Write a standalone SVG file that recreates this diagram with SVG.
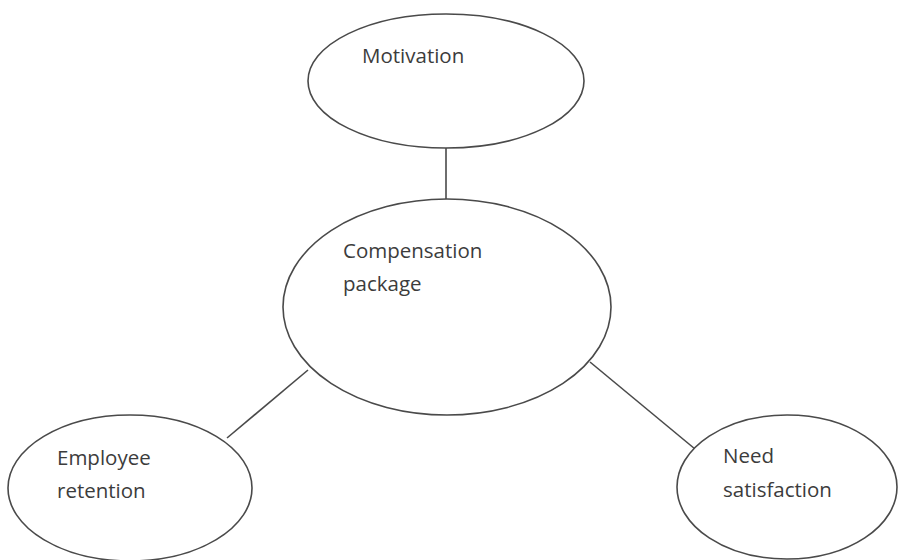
<svg xmlns="http://www.w3.org/2000/svg" width="898" height="560" viewBox="0 0 898 560">
<style>
.n{fill:#fff;stroke:#4a4a4a;stroke-width:1.6}
.c{stroke:#4a4a4a;stroke-width:1.6;fill:none}
text{font-family:"Open Sans","DejaVu Sans",sans-serif;font-size:20.5px;fill:#3c3c3c}
</style>
<rect width="898" height="560" fill="#fff"/>
<g id="connectors">
<line class="c" x1="446" y1="148" x2="446" y2="199"/>
<line class="c" x1="308" y1="370" x2="227" y2="438"/>
<line class="c" x1="590" y1="362" x2="695" y2="449"/>
</g>
<g id="motivation">
<ellipse class="n" cx="446" cy="81" rx="138" ry="67"/>
<text x="362" y="63">Motivation</text>
</g>
<g id="compensation">
<ellipse class="n" cx="447" cy="307" rx="164" ry="108"/>
<text x="343" y="258">Compensation</text>
<text x="343" y="291">package</text>
</g>
<g id="employee">
<ellipse class="n" cx="130" cy="488" rx="122" ry="73"/>
<text x="57" y="465">Employee</text>
<text x="57" y="498">retention</text>
</g>
<g id="need">
<ellipse class="n" cx="787" cy="487" rx="110" ry="72"/>
<text x="723" y="463">Need</text>
<text x="723" y="497">satisfaction</text>
</g>
</svg>
